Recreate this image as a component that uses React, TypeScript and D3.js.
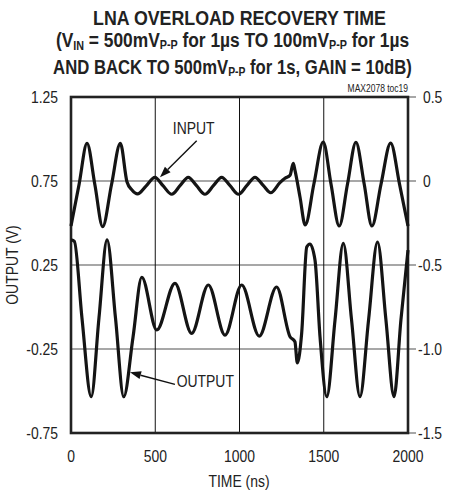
import React from "react";
import * as d3 from "d3";

const xTicks = [0, 500, 1000, 1500, 2000];
const leftTicks = [1.25, 0.75, 0.25, -0.25, -0.75];
const leftTickLabels = ["1.25", "0.75", "0.25", "-0.25", "-0.75"];
const rightTicks = [0.5, 0, -0.5, -1.0, -1.5];
const rightTickLabels = ["0.5", "0", "-0.5", "-1.0", "-1.5"];

// INPUT trace (right axis, V)
const inputTime = [0, 48, 95, 142, 188, 240, 293, 332, 362, 395, 445, 498, 546, 598, 647, 696, 745, 795, 845, 894, 944, 994, 1043, 1092, 1142, 1185, 1240, 1270, 1300, 1319, 1329, 1359, 1390, 1442, 1497, 1543, 1592, 1641, 1691, 1740, 1786, 1840, 1897, 1950, 2000];
const inputValue = [-0.268, -0.02, 0.224, -0.024, -0.272, -0.024, 0.224, -0.004, -0.054, -0.077, -0.03, 0.022, -0.028, -0.079, -0.028, 0.022, -0.028, -0.079, -0.028, 0.022, -0.028, -0.079, -0.028, 0.022, -0.028, -0.07, -0.01, 0.016, 0.034, 0.105, 0.065, -0.095, -0.262, -0.015, 0.232, -0.018, -0.268, -0.018, 0.23, -0.018, -0.268, -0.018, 0.226, -0.02, -0.268];

// OUTPUT trace (left axis, V)
const outputTime = [0, 20, 65, 120, 166, 214, 264, 313, 368, 420, 509, 617, 716, 815, 914, 1013, 1117, 1220, 1300, 1329, 1343, 1369, 1399, 1418, 1448, 1478, 1518, 1567, 1616, 1665, 1715, 1766, 1819, 1869, 1917, 1958, 2000];
const outputValue = [0.4, 0.39, -0.065, -0.534, -0.065, 0.399, -0.065, -0.534, -0.18, 0.177, -0.137, 0.141, -0.157, 0.131, -0.167, 0.131, -0.173, 0.119, -0.177, -0.207, -0.333, -0.155, 0.357, 0.375, 0.28, -0.179, -0.534, -0.077, 0.379, -0.077, -0.534, -0.077, 0.387, -0.077, -0.534, -0.077, 0.339];

const FONT = "'Liberation Sans', Arial, Helvetica, sans-serif";

const x = d3.scaleLinear().domain([0, 2000]).range([71, 408]);
const yL = d3.scaleLinear().domain([-0.75, 1.25]).range([433, 97]);
const yR = d3.scaleLinear().domain([-1.5, 0.5]).range([433, 97]);

function T({ x: tx, y: ty, anchor = "start", size = 17, sx = 0.82, weight = "normal", children }: any) {
  return (
    <text
      transform={`translate(${tx},${ty}) scale(${sx},1)`}
      textAnchor={anchor}
      fontSize={size}
      fontWeight={weight}
      fontFamily={FONT}
      fill="#222"
    >
      {children}
    </text>
  );
}

function Arrow({ x1, y1, x2, y2 }: any) {
  const ang = Math.atan2(y2 - y1, x2 - x1);
  const L = 11, W = 4;
  const bx = x2 - L * Math.cos(ang), by = y2 - L * Math.sin(ang);
  const px = -Math.sin(ang) * W, py = Math.cos(ang) * W;
  return (
    <g>
      <line x1={x1} y1={y1} x2={bx} y2={by} stroke="#111" strokeWidth={1.4} />
      <path d={`M${x2},${y2}L${bx + px},${by + py}L${bx - px},${by - py}Z`} fill="#111" />
    </g>
  );
}

export default function App() {
  const inLine = d3
    .line<number>()
    .x((_, i) => x(inputTime[i]))
    .y((d) => yR(d))
    .curve(d3.curveMonotoneX)(inputValue) as string;
  const outLine = d3
    .line<number>()
    .x((_, i) => x(outputTime[i]))
    .y((d) => yL(d))
    .curve(d3.curveMonotoneX)(outputValue) as string;

  const sub = 13;
  return (
    <svg width={451} height={495} style={{ position: "absolute", left: 0, top: 0, background: "#fff" }}>
      {/* Title */}
      <T x={239.5} y={25} anchor="middle" size={21} sx={0.848} weight="bold">LNA OVERLOAD RECOVERY TIME</T>
      <T x={232.5} y={47} anchor="middle" size={21} sx={0.827} weight="bold">
        (V<tspan fontSize={sub} dy={3}>IN</tspan>
        <tspan dy={-3}> = 500mV</tspan>
        <tspan fontSize={sub} dy={2}>P-P</tspan>
        <tspan dy={-2}> for 1µs TO 100mV</tspan>
        <tspan fontSize={sub} dy={2}>P-P</tspan>
        <tspan dy={-2}> for 1µs</tspan>
      </T>
      <T x={232.5} y={74} anchor="middle" size={21} sx={0.795} weight="bold">
        AND BACK TO 500mV<tspan fontSize={sub} dy={2}>P-P</tspan>
        <tspan dy={-2}> for 1s, GAIN = 10dB)</tspan>
      </T>
      <T x={408} y={92} anchor="end" size={10} sx={0.85}>MAX2078 toc19</T>

      {/* Horizontal grid + right ticks */}
      {leftTicks.map((v, i) => (
        <line key={"h" + i} x1={71} x2={416} y1={yL(v)} y2={yL(v)} stroke="#8a8a8a" strokeWidth={1.6} />
      ))}
      {/* Vertical grid */}
      {xTicks.slice(1, -1).map((t, i) => (
        <line key={"v" + i} x1={x(t)} x2={x(t)} y1={97} y2={433} stroke="#111" strokeWidth={1} />
      ))}
      {/* Frame */}
      <rect x={71} y={97} width={337} height={336} fill="none" stroke="#222" strokeWidth={2.6} />

      {/* Traces */}
      <path d={inLine} fill="none" stroke="#141414" strokeWidth={3.2} strokeLinejoin="round" />
      <path d={outLine} fill="none" stroke="#141414" strokeWidth={3.2} strokeLinejoin="round" />

      {/* Annotations */}
      <T x={x(604)} y={yR(0.28)} size={17}>INPUT</T>
      <Arrow x1={x(746)} y1={yR(0.24)} x2={x(528)} y2={yR(0.022)} />
      <T x={x(627)} y={yL(-0.476)} size={17}>OUTPUT</T>
      <Arrow x1={x(617)} y1={yL(-0.461)} x2={x(350)} y2={yL(-0.389)} />

      {/* Left tick labels */}
      {leftTicks.map((v, i) => (
        <T key={"l" + i} x={58} y={yL(v) + 6} anchor="end">{leftTickLabels[i]}</T>
      ))}
      {/* Right tick labels */}
      {rightTicks.map((v, i) => (
        <T key={"r" + i} x={rightTickLabels[i].startsWith("-") ? 418 : 423} y={yR(v) + 6} anchor="start">{rightTickLabels[i]}</T>
      ))}
      {/* X tick labels */}
      {xTicks.map((t, i) => (
        <T key={"x" + i} x={x(t)} y={462} anchor="middle">{String(t)}</T>
      ))}
      <T x={239} y={487} anchor="middle">TIME (ns)</T>
      <text transform="translate(18,265) rotate(-90) scale(0.82,1)" textAnchor="middle" fontSize={17} fontFamily={FONT} fill="#222">
        OUTPUT (V)
      </text>
    </svg>
  );
}
